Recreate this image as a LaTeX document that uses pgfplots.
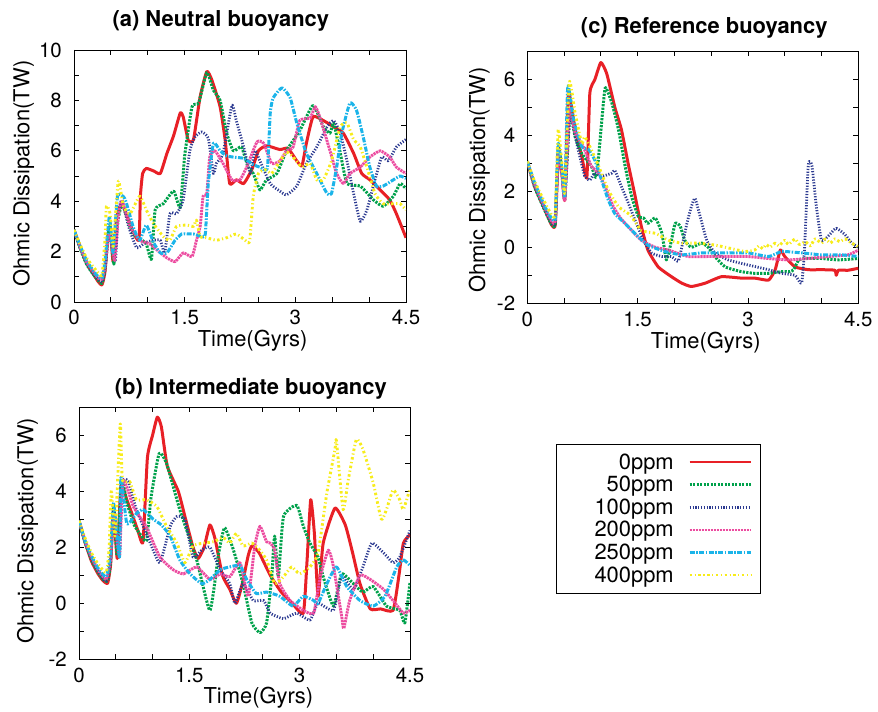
\documentclass[border=0pt]{standalone}
\usepackage{fontspec}
\setmainfont{TeX Gyre Heros}
\usepackage{pgfplots}
\pgfplotsset{compat=1.18}

\definecolor{cred}{HTML}{E82026}
\definecolor{cgreen}{HTML}{00A14B}
\definecolor{cnavy}{HTML}{2B3990}
\definecolor{cpink}{HTML}{EC4CA0}
\definecolor{ccyan}{HTML}{1BB4E9}
\definecolor{cyellow}{HTML}{F7EC1A}

\newcommand\tickfont{\fontsize{20.5}{20.5}\selectfont}
\newcommand\labelfont{\fontsize{22}{22}\selectfont}
\newcommand\titlefont{\fontsize{22}{22}\selectfont\bfseries}

\pgfplotsset{
  panel/.style={
    scale only axis, width=331bp, height=252bp,
    xmin=0, xmax=4.5, xtick={0,1.5,3,4.5}, minor x tick num=2,
    tick align=inside, major tick length=5bp, minor tick length=5bp,
    axis line style={line width=0.9bp},
    every tick/.style={line width=0.9bp, black},
    ticklabel style={font=\tickfont},
    /pgf/number format/assume math mode=true,
    xticklabel style={anchor=base, yshift=-23bp, inner sep=0pt},
    yticklabel style={anchor=east, xshift=-12bp, inner sep=0pt},
    label style={font=\labelfont},
    xlabel={Time(Gyrs)}, ylabel={Ohmic Dissipation(TW)},
    every axis plot/.append style={line join=round, smooth, tension=0.3},
  },
  s0/.style={cred, line width=3bp},
  s50/.style={cgreen, line width=3bp, dash pattern=on 2.2bp off 1.3bp},
  s100/.style={cnavy, line width=2.8bp, dash pattern=on 1.2bp off 1.6bp},
  s200/.style={cpink, line width=2.9bp, dash pattern=on 2.2bp off 0.8bp},
  s250/.style={ccyan, line width=3bp, dash pattern=on 5bp off 1.5bp on 1.5bp off 1.5bp},
  s400/.style={cyellow, line width=2.9bp, dash pattern=on 2.5bp off 2.5bp on 1.2bp off 2.5bp},
}

\begin{document}
\begin{tikzpicture}
\useasboundingbox (0,0) rectangle (878bp,712bp);

% (a) Neutral buoyancy
\begin{axis}[panel, at={(74bp,410bp)}, width=332bp, ymin=0, ymax=10, ytick={0,2,...,10}, minor y tick num=1,
  xlabel style={at={(axis description cs:0.538,0)}, anchor=base, yshift=-44.7bp},
  ylabel style={at={(axis description cs:-0.1346,0.51)}, anchor=base}]
\addplot[s0] coordinates {(0,2.86)(0.08,2.2)(0.17,1.55)(0.26,1.12)(0.33,0.8)(0.38,0.68)(0.42,1.2)(0.46,2.6)(0.49,3.0)(0.53,1.6)(0.58,3.4)(0.65,3.9)(0.72,3.4)(0.8,2.8)(0.88,2.45)(0.9,4.2)(0.93,5.1)(0.98,5.3)(1.08,5.2)(1.17,5.1)(1.26,5.9)(1.35,6.6)(1.44,7.5)(1.48,7.35)(1.55,6.4)(1.62,6.45)(1.71,8.15)(1.8,9.15)(1.87,8.8)(1.98,7.75)(2.05,6.4)(2.11,4.7)(2.2,4.85)(2.3,4.7)(2.41,5.25)(2.5,6.0)(2.61,6.2)(2.79,6.05)(2.9,6.1)(3.02,5.6)(3.09,5.4)(3.15,6.3)(3.24,7.35)(3.38,7.2)(3.52,6.95)(3.65,6.7)(3.79,5.9)(3.9,5.1)(4.01,4.85)(4.15,4.45)(4.28,4.05)(4.37,3.5)(4.5,2.55)};
\addplot[s50] coordinates {(0,2.86)(0.08,2.15)(0.17,1.5)(0.26,1.1)(0.33,0.85)(0.38,0.74)(0.42,1.3)(0.46,2.6)(0.49,3.0)(0.54,1.5)(0.58,3.0)(0.65,3.9)(0.72,3.3)(0.8,2.7)(0.9,2.5)(0.98,2.3)(1.05,1.7)(1.1,3.65)(1.21,3.9)(1.35,4.4)(1.44,3.75)(1.5,5.8)(1.6,7.75)(1.69,7.9)(1.8,9.1)(1.89,8.4)(1.98,8.0)(2.07,6.7)(2.16,6.0)(2.27,6.15)(2.36,5.35)(2.43,5.1)(2.52,4.45)(2.61,4.85)(2.75,5.1)(2.88,6.0)(3.06,6.8)(3.24,7.8)(3.38,6.95)(3.47,6.7)(3.52,7.1)(3.61,5.9)(3.7,4.7)(3.88,4.6)(4.06,4.05)(4.19,3.8)(4.33,4.2)(4.42,4.7)(4.5,4.5)};
\addplot[s100] coordinates {(0,2.86)(0.08,2.2)(0.17,1.55)(0.26,1.15)(0.33,0.9)(0.38,0.8)(0.42,1.3)(0.46,2.4)(0.49,2.6)(0.56,1.65)(0.6,3.5)(0.65,4.05)(0.74,3.0)(0.85,2.15)(0.96,2.35)(1.08,2.45)(1.17,2.45)(1.23,1.95)(1.3,3.5)(1.39,3.5)(1.48,4.05)(1.57,6.0)(1.64,6.55)(1.73,6.75)(1.82,6.5)(1.89,5.1)(1.93,5.5)(2.02,5.9)(2.14,7.8)(2.2,7.2)(2.3,6.15)(2.39,5.1)(2.45,6.0)(2.52,5.6)(2.66,4.7)(2.79,4.4)(2.88,4.25)(3.02,4.6)(3.15,5.5)(3.29,6.15)(3.43,6.95)(3.52,7.2)(3.61,6.7)(3.7,5.6)(3.79,4.3)(3.88,3.2)(3.97,3.65)(4.08,4.85)(4.17,5.75)(4.26,5.6)(4.37,6.15)(4.5,6.45)};
\addplot[s200] coordinates {(0,2.86)(0.08,2.2)(0.17,1.6)(0.26,1.2)(0.33,0.95)(0.38,0.9)(0.42,1.4)(0.46,2.5)(0.49,2.7)(0.55,1.65)(0.6,3.4)(0.65,4.0)(0.76,3.0)(0.89,2.45)(1.03,2.3)(1.17,1.95)(1.26,1.75)(1.37,1.6)(1.48,1.95)(1.6,1.8)(1.66,2.45)(1.71,3.0)(1.75,4.2)(1.8,4.3)(1.84,5.75)(1.91,6.0)(2.02,5.5)(2.14,4.85)(2.25,4.85)(2.34,5.35)(2.48,6.35)(2.57,6.3)(2.68,5.5)(2.79,5.6)(2.88,6.0)(2.97,6.15)(3.06,7.2)(3.2,7.3)(3.27,7.75)(3.33,7.35)(3.47,6.0)(3.56,5.1)(3.65,4.7)(3.74,5.1)(3.88,5.35)(4.01,5.75)(4.15,6.0)(4.28,5.75)(4.37,5.35)(4.5,5.1)};
\addplot[s250] coordinates {(0,2.86)(0.08,2.25)(0.17,1.65)(0.26,1.25)(0.33,1.0)(0.38,0.95)(0.42,1.6)(0.48,3.4)(0.53,1.95)(0.59,4.2)(0.69,4.1)(0.8,3.0)(0.89,2.45)(0.98,3.05)(1.08,2.35)(1.17,1.95)(1.26,1.95)(1.37,2.45)(1.46,2.7)(1.53,2.7)(1.62,2.7)(1.73,2.6)(1.78,2.7)(1.82,4.7)(1.89,6.3)(1.98,6.0)(2.07,5.8)(2.16,5.75)(2.3,5.7)(2.43,5.45)(2.52,5.35)(2.62,5.3)(2.66,7.5)(2.7,8.1)(2.82,8.5)(2.93,8.1)(3.02,7.1)(3.15,5.9)(3.29,5.1)(3.43,4.3)(3.49,4.3)(3.56,5.35)(3.63,6.7)(3.74,7.9)(3.83,7.6)(3.92,6.55)(4.01,5.35)(4.1,4.6)(4.19,4.6)(4.33,4.85)(4.42,5.0)(4.5,4.9)};
\addplot[s400] coordinates {(0,2.86)(0.08,2.3)(0.17,1.75)(0.26,1.4)(0.33,1.15)(0.38,1.07)(0.42,2.5)(0.44,3.8)(0.49,3.5)(0.53,2.2)(0.6,4.8)(0.67,3.8)(0.76,3.5)(0.89,4.2)(0.98,3.65)(1.08,3.1)(1.21,2.6)(1.3,2.45)(1.39,3.0)(1.53,3.05)(1.62,3.0)(1.66,3.25)(1.71,2.6)(1.8,2.55)(1.93,2.45)(2.07,2.55)(2.2,2.7)(2.32,2.45)(2.38,2.4)(2.43,4.2)(2.5,5.1)(2.59,5.25)(2.68,5.1)(2.77,5.5)(2.88,5.95)(2.97,5.75)(3.09,5.35)(3.2,5.5)(3.29,4.85)(3.38,4.85)(3.49,5.6)(3.61,6.95)(3.7,7.1)(3.79,6.45)(3.88,6.15)(3.97,5.35)(4.08,4.3)(4.19,3.9)(4.33,3.9)(4.42,3.9)(4.5,3.65)};
\end{axis}

% (c) Reference buoyancy
\begin{axis}[panel, at={(527.3bp,408.7bp)}, ymin=-2, ymax=7, ytick={-2,0,2,4,6}, minor y tick num=1,
  xlabel style={at={(axis description cs:0.539,0)}, anchor=base, yshift=-45bp},
  ylabel style={at={(axis description cs:-0.1278,0.49)}, anchor=base}]
\addplot[s0] coordinates {(0,3.07)(0.1,2.17)(0.24,1.34)(0.33,0.8)(0.38,0.8)(0.42,3.1)(0.47,2.65)(0.51,1.7)(0.56,5.5)(0.65,4.2)(0.74,3.25)(0.81,2.5)(0.85,5.5)(0.92,6.0)(1.0,6.6)(1.08,6.2)(1.19,5.0)(1.28,4.2)(1.37,3.0)(1.46,1.9)(1.55,0.75)(1.64,-0.1)(1.78,-0.7)(1.96,-1.05)(2.1,-1.28)(2.23,-1.4)(2.42,-1.28)(2.64,-1.05)(2.91,-1.1)(3.09,-1.1)(3.28,-1.17)(3.37,-0.8)(3.44,-0.1)(3.5,-0.33)(3.64,-0.7)(3.82,-0.8)(4.0,-0.8)(4.18,-0.82)(4.2,-1.0)(4.23,-0.82)(4.36,-0.82)(4.5,-0.75)};
\addplot[s50] coordinates {(0,3.07)(0.1,2.15)(0.24,1.3)(0.33,0.82)(0.38,0.85)(0.42,3.5)(0.47,2.8)(0.51,1.8)(0.58,4.8)(0.65,3.95)(0.74,3.35)(0.87,2.9)(0.94,2.5)(1.01,4.45)(1.06,5.7)(1.15,5.15)(1.24,4.2)(1.33,2.9)(1.42,1.8)(1.51,1.1)(1.58,1.05)(1.64,0.85)(1.74,1.05)(1.83,0.5)(1.89,-0.45)(1.94,0.0)(2.01,0.85)(2.08,0.75)(2.14,0.25)(2.23,0.0)(2.37,0.15)(2.46,0.0)(2.55,-0.33)(2.69,-0.7)(2.91,-0.87)(3.09,-0.93)(3.28,-0.93)(3.46,-0.87)(3.57,-0.87)(3.62,-0.8)(3.69,-0.45)(3.78,-0.4)(4.0,-0.4)(4.23,-0.45)(4.5,-0.4)};
\addplot[s100] coordinates {(0,3.07)(0.1,2.2)(0.24,1.35)(0.33,0.86)(0.38,0.9)(0.42,3.6)(0.47,2.7)(0.51,1.7)(0.58,4.65)(0.69,3.5)(0.78,2.55)(0.85,2.4)(0.92,2.65)(1.03,2.55)(1.15,2.65)(1.19,2.75)(1.26,2.3)(1.37,1.6)(1.46,1.0)(1.58,0.25)(1.69,-0.2)(1.83,-0.33)(1.96,-0.33)(2.05,-0.5)(2.1,0.0)(2.17,0.85)(2.23,1.45)(2.28,1.75)(2.35,1.1)(2.44,0.25)(2.55,-0.2)(2.73,-0.45)(3.0,-0.63)(3.28,-0.8)(3.46,-0.93)(3.64,-1.0)(3.73,-1.28)(3.77,0.0)(3.82,2.95)(3.87,2.9)(3.93,1.45)(4.0,0.25)(4.09,0.4)(4.2,0.68)(4.32,0.45)(4.41,0.15)(4.5,0.0)};
\addplot[s200] coordinates {(0,3.07)(0.1,2.25)(0.24,1.4)(0.33,0.94)(0.38,0.95)(0.42,3.35)(0.47,2.6)(0.51,1.7)(0.57,4.9)(0.65,4.1)(0.76,3.6)(0.87,2.9)(0.97,2.65)(1.06,2.15)(1.17,1.45)(1.28,1.0)(1.42,0.6)(1.55,0.25)(1.74,0.0)(1.92,-0.1)(2.19,-0.33)(2.46,-0.33)(2.73,-0.33)(3.0,-0.33)(3.28,-0.4)(3.55,-0.45)(3.82,-0.4)(4.09,-0.33)(4.36,-0.27)(4.5,-0.1)};
\addplot[s250] coordinates {(0,3.07)(0.1,2.3)(0.24,1.45)(0.33,1.04)(0.38,1.05)(0.42,3.7)(0.47,2.8)(0.51,1.8)(0.55,5.75)(0.63,4.55)(0.74,3.6)(0.83,3.5)(0.92,3.1)(1.01,2.4)(1.1,1.7)(1.19,1.2)(1.33,0.85)(1.46,0.5)(1.64,0.08)(1.87,-0.15)(2.1,-0.27)(2.37,-0.2)(2.64,-0.2)(3.0,-0.2)(3.28,-0.33)(3.46,-0.15)(3.73,-0.2)(4.0,-0.27)(4.27,-0.27)(4.5,-0.33)};
\addplot[s400] coordinates {(0,3.07)(0.1,2.35)(0.24,1.6)(0.33,1.16)(0.38,1.2)(0.42,4.2)(0.47,3.0)(0.51,1.95)(0.57,5.9)(0.65,4.8)(0.74,3.7)(0.78,3.95)(0.85,3.6)(0.97,2.9)(1.1,2.05)(1.24,1.45)(1.4,1.15)(1.55,0.6)(1.74,0.5)(1.92,0.25)(2.1,0.15)(2.32,0.15)(2.55,0.08)(2.78,-0.05)(2.96,-0.15)(3.09,-0.1)(3.15,0.05)(3.2,-0.05)(3.25,0.1)(3.3,0.0)(3.37,0.15)(3.42,0.05)(3.5,0.25)(3.55,0.1)(3.64,0.3)(3.7,0.1)(3.78,0.2)(3.85,0.05)(3.91,0.3)(4.0,0.15)(4.05,0.3)(4.12,0.15)(4.18,0.3)(4.25,0.2)(4.32,0.3)(4.41,0.15)(4.5,0.02)};
\end{axis}

% (b) Intermediate buoyancy, with the legend
\begin{axis}[panel, at={(79bp,52.7bp)}, ymin=-2, ymax=7, ytick={-2,0,2,4,6}, minor y tick num=1,
  xlabel style={at={(axis description cs:0.542,0)}, anchor=base, yshift=-44bp},
  ylabel style={at={(axis description cs:-0.138,0.51)}, anchor=base},
  legend cell align=right, legend plot pos=right,
  legend style={at={(1.4402,0.8557)}, anchor=north west, draw=black, line width=0.8bp,
    inner xsep=8bp, inner ysep=6.7bp, row sep=0pt, column sep=14.7bp,
    font=\fontsize{22}{22}\selectfont,
    nodes={inner sep=0pt, text height=18.3bp, text depth=4.3bp}},
  legend image code/.code={\draw[#1, line width=2.6bp] (0bp,0bp) -- (61bp,0bp);}]
\addplot[s0] coordinates {(0,2.95)(0.08,2.2)(0.17,1.5)(0.26,1.05)(0.33,0.8)(0.39,0.72)(0.43,1.4)(0.47,3.3)(0.52,1.6)(0.57,4.2)(0.65,3.7)(0.72,3.2)(0.8,2.6)(0.87,2.2)(0.93,5.2)(1.0,6.0)(1.065,6.65)(1.12,6.3)(1.2,4.9)(1.35,4.0)(1.45,3.0)(1.55,2.0)(1.62,1.6)(1.7,2.0)(1.78,2.8)(1.85,2.3)(1.95,1.0)(2.05,0.5)(2.14,0.0)(2.22,0.7)(2.3,1.7)(2.35,2.05)(2.45,1.8)(2.6,1.0)(2.75,0.4)(2.9,0.0)(3.05,-0.35)(3.1,1.5)(3.15,3.7)(3.2,2.5)(3.25,0.25)(3.32,2.15)(3.48,3.4)(3.62,2.8)(3.72,1.8)(3.82,0.7)(3.96,-0.2)(4.1,-0.2)(4.27,-0.25)(4.35,1.0)(4.41,2.15)(4.5,2.45)};
\addplot[s50] coordinates {(0,2.95)(0.08,2.2)(0.17,1.55)(0.26,1.1)(0.33,0.85)(0.39,0.8)(0.43,1.5)(0.47,3.5)(0.52,1.7)(0.58,4.4)(0.65,3.6)(0.75,2.8)(0.85,2.4)(0.92,2.25)(0.98,3.8)(1.09,5.35)(1.19,5.0)(1.37,3.35)(1.6,1.55)(1.78,-0.25)(1.9,1.8)(1.98,2.7)(2.1,1.9)(2.23,0.7)(2.35,-0.7)(2.46,-1.05)(2.55,-0.7)(2.62,0.95)(2.66,2.4)(2.71,0.95)(2.78,3.1)(2.96,3.5)(3.05,2.75)(3.14,2.15)(3.25,1.65)(3.32,0.95)(3.46,-0.1)(3.57,1.05)(3.73,0.7)(3.86,0.4)(4.0,0.6)(4.18,-0.1)(4.36,-0.25)(4.43,-0.7)(4.5,0.75)};
\addplot[s100] coordinates {(0,2.95)(0.08,2.2)(0.17,1.6)(0.26,1.15)(0.35,0.8)(0.39,0.85)(0.43,1.6)(0.47,3.35)(0.55,1.65)(0.58,4.3)(0.67,4.35)(0.78,3.35)(0.97,2.15)(1.1,1.45)(1.24,2.75)(1.33,3.1)(1.44,3.0)(1.55,1.65)(1.67,1.9)(1.78,2.0)(1.92,1.2)(2.05,0.7)(2.12,0.0)(2.23,0.7)(2.37,0.1)(2.51,0.1)(2.6,-0.35)(2.78,-0.55)(2.96,-0.35)(3.14,-0.6)(3.25,0.0)(3.46,-0.25)(3.57,0.95)(3.73,0.5)(3.86,1.3)(3.98,2.15)(4.14,1.8)(4.27,1.45)(4.36,1.65)(4.5,2.6)};
\addplot[s200] coordinates {(0,2.95)(0.08,2.25)(0.17,1.65)(0.26,1.2)(0.37,0.85)(0.43,1.6)(0.47,3.2)(0.55,1.7)(0.6,4.4)(0.74,3.45)(0.92,2.7)(1.1,1.65)(1.28,1.2)(1.42,1.05)(1.6,1.3)(1.78,0.85)(1.92,1.05)(2.05,0.95)(2.19,1.45)(2.3,0.25)(2.39,2.05)(2.46,2.75)(2.55,2.2)(2.6,2.15)(2.66,1.9)(2.73,0.7)(2.87,0.1)(3.05,-0.25)(3.19,-0.35)(3.28,0.95)(3.39,1.9)(3.46,1.3)(3.57,-0.45)(3.6,-0.9)(3.68,0.1)(3.82,1.0)(3.96,0.85)(4.14,0.5)(4.3,0.0)(4.41,-0.35)(4.5,-0.25)};
\addplot[s250] coordinates {(0,2.95)(0.08,2.25)(0.17,1.7)(0.26,1.25)(0.37,0.95)(0.43,1.8)(0.47,3.6)(0.55,1.65)(0.57,4.5)(0.65,2.85)(0.78,3.2)(0.87,3.35)(1.01,3.0)(1.12,2.8)(1.24,2.4)(1.37,1.55)(1.51,1.05)(1.67,0.7)(1.78,0.85)(1.92,1.2)(2.05,1.3)(2.19,1.35)(2.28,0.85)(2.41,0.35)(2.55,0.4)(2.73,0.25)(2.91,-0.1)(3.05,0.25)(3.19,0.1)(3.25,0.0)(3.37,0.7)(3.5,1.3)(3.64,0.6)(3.82,0.1)(4.0,-0.1)(4.16,0.25)(4.32,1.3)(4.41,1.55)(4.5,1.35)};
\addplot[s400] coordinates {(0,2.95)(0.08,2.35)(0.17,1.8)(0.26,1.4)(0.37,1.1)(0.41,2.0)(0.44,4.05)(0.49,2.4)(0.56,6.4)(0.59,4.4)(0.69,4.35)(0.78,3.7)(0.92,3.7)(1.06,3.45)(1.19,2.75)(1.33,2.15)(1.44,1.45)(1.55,2.05)(1.69,2.15)(1.83,2.2)(1.96,2.35)(2.05,2.15)(2.14,2.5)(2.23,2.05)(2.35,2.15)(2.44,1.95)(2.55,1.55)(2.66,0.7)(2.78,0.95)(2.89,1.3)(3.0,1.05)(3.14,1.3)(3.25,1.8)(3.37,3.95)(3.48,5.5)(3.5,5.8)(3.59,3.35)(3.66,4.4)(3.77,5.85)(3.86,5.5)(4.0,4.3)(4.11,3.0)(4.18,3.35)(4.27,4.05)(4.36,3.7)(4.41,3.35)(4.5,4.1)};
\legend{\makebox[109.6bp][r]{0ppm},\makebox[109.6bp][r]{50ppm},\makebox[109.6bp][r]{100ppm},\makebox[109.6bp][r]{200ppm},\makebox[109.6bp][r]{250ppm},\makebox[109.6bp][r]{400ppm}}
\end{axis}

\node[font=\titlefont, anchor=base] at (220.8bp,685.3bp) {(a) Neutral buoyancy};
\node[font=\titlefont, anchor=base] at (704.2bp,678.7bp) {(c) Reference buoyancy};
\node[font=\titlefont, anchor=base] at (250.8bp,317bp) {(b) Intermediate buoyancy};
\end{tikzpicture}
\end{document}
